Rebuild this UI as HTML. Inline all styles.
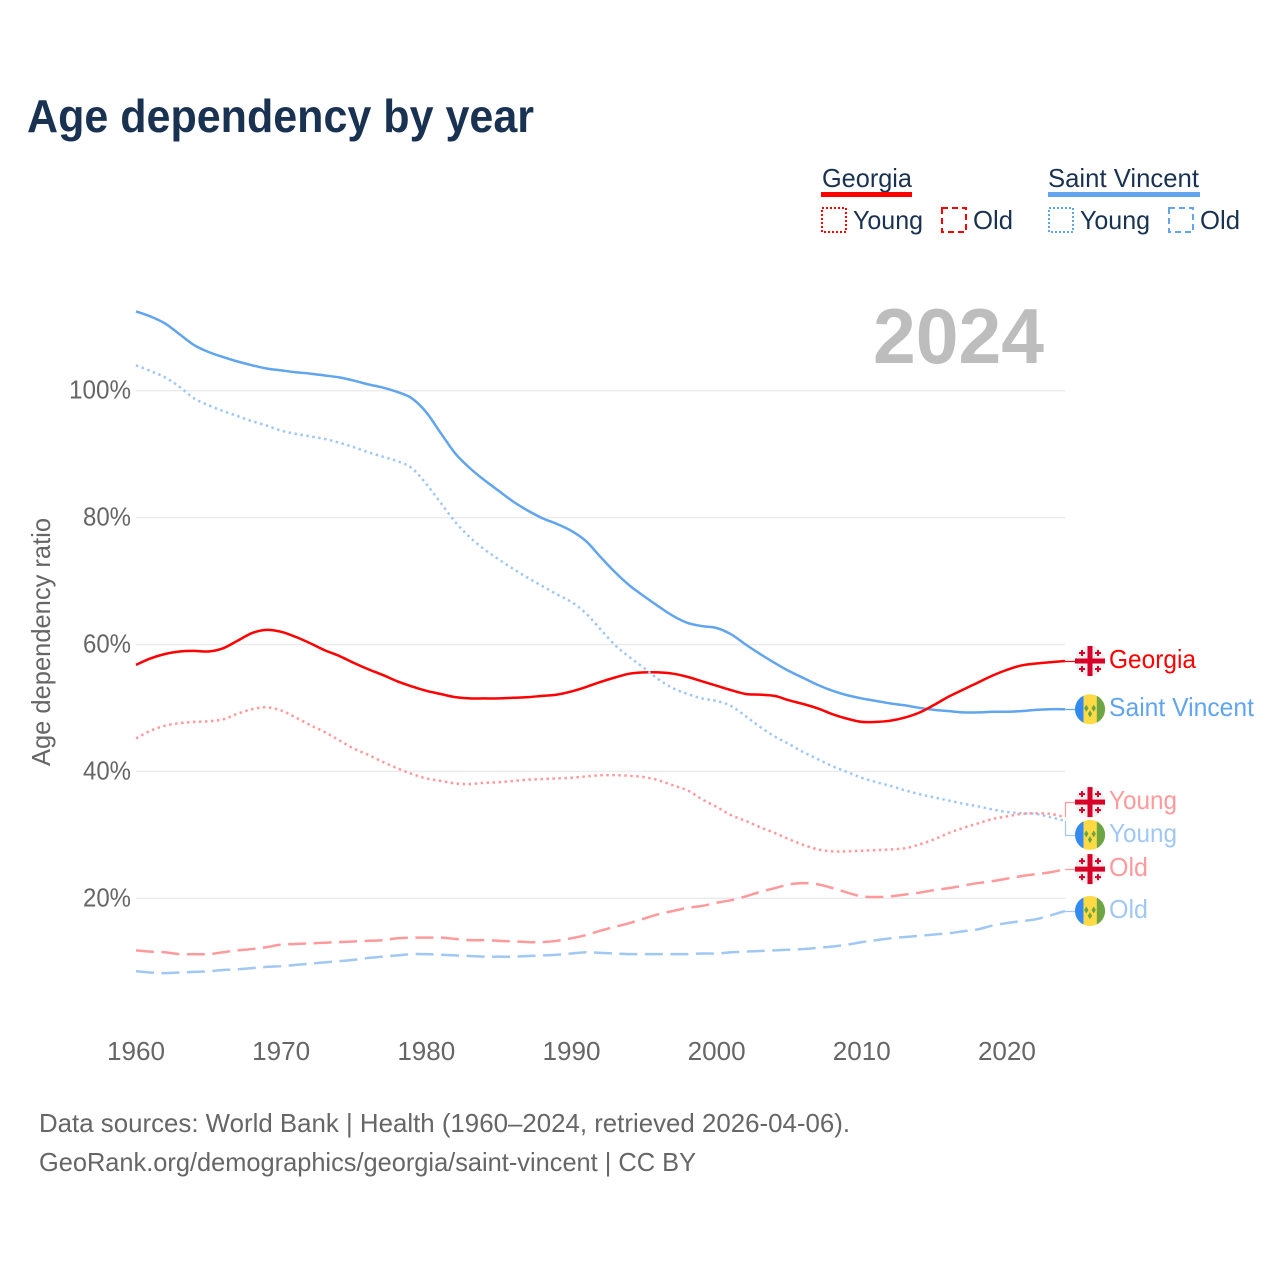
<!DOCTYPE html>
<html lang="en">
<head>
<meta charset="utf-8">
<title>Age dependency by year</title>
<style>
html,body{margin:0;padding:0;background:#fff}
svg{display:block}
text{font-family:"Liberation Sans",sans-serif}
</style>
</head>
<body>
<svg id="chart" xmlns="http://www.w3.org/2000/svg" width="1280" height="1280" viewBox="0 0 1280 1280">
  <rect width="1280" height="1280" fill="#fff"/>
  <text x="27" y="132" font-size="46" font-weight="700" fill="#1a3251" textLength="507" lengthAdjust="spacingAndGlyphs">Age dependency by year</text>

  <g font-size="26" fill="#1a3251">
    <text x="822" y="187" textLength="90" lengthAdjust="spacingAndGlyphs">Georgia</text>
    <rect x="821" y="192" width="91" height="5" fill="#ff0000"/>
    <rect x="822" y="208" width="24" height="24" fill="none" stroke="#ff0000" stroke-width="2" stroke-dasharray="2 2"/>
    <text x="853" y="229" textLength="70" lengthAdjust="spacingAndGlyphs">Young</text>
    <rect x="942" y="208" width="24" height="24" fill="none" stroke="#ff0000" stroke-width="2" stroke-dasharray="6 4"/>
    <text x="973" y="229" textLength="40" lengthAdjust="spacingAndGlyphs">Old</text>
    <text x="1048" y="187" textLength="151" lengthAdjust="spacingAndGlyphs">Saint Vincent</text>
    <rect x="1048" y="192" width="152" height="5" fill="#60a5ee"/>
    <rect x="1049" y="208" width="24" height="24" fill="none" stroke="#60a5ee" stroke-width="2" stroke-dasharray="2 2"/>
    <text x="1080" y="229" textLength="70" lengthAdjust="spacingAndGlyphs">Young</text>
    <rect x="1169" y="208" width="24" height="24" fill="none" stroke="#60a5ee" stroke-width="2" stroke-dasharray="6 4"/>
    <text x="1200" y="229" textLength="40" lengthAdjust="spacingAndGlyphs">Old</text>
  </g>

  <text x="873" y="363" font-size="78" font-weight="700" fill="#bdbdbd" textLength="171" lengthAdjust="spacingAndGlyphs">2024</text>

  <g id="grid"></g>
  <g id="yticks" font-size="26" fill="#666"></g>
  <g id="xticks" font-size="26" fill="#666"></g>
  <text transform="translate(50 766) rotate(-90)" font-size="26" fill="#666" textLength="248" lengthAdjust="spacingAndGlyphs">Age dependency ratio</text>
  <g id="lines"></g>
  <g id="endlabels" font-size="26"></g>

  <g font-size="26" fill="#666">
    <text x="39" y="1132" textLength="811" lengthAdjust="spacingAndGlyphs">Data sources: World Bank | Health (1960–2024, retrieved 2026-04-06).</text>
    <text x="39" y="1171" textLength="657" lengthAdjust="spacingAndGlyphs">GeoRank.org/demographics/georgia/saint-vincent | CC BY</text>
  </g>
</svg>
<script>
const years = [1960,1961,1962,1963,1964,1965,1966,1967,1968,1969,1970,1971,1972,1973,1974,1975,1976,1977,1978,1979,1980,1981,1982,1983,1984,1985,1986,1987,1988,1989,1990,1991,1992,1993,1994,1995,1996,1997,1998,1999,2000,2001,2002,2003,2004,2005,2006,2007,2008,2009,2010,2011,2012,2013,2014,2015,2016,2017,2018,2019,2020,2021,2022,2023,2024];
const xTickLabels = [1960,1970,1980,1990,2000,2010,2020];
const yTickLabels = [20,40,60,80,100];

const georgiaTotal = [56.8,57.8,58.5,58.9,59.0,58.9,59.4,60.6,61.8,62.3,
  62.0,61.2,60.2,59.1,58.2,57.1,56.1,55.2,54.2,53.4,
  52.7,52.2,51.7,51.5,51.5,51.5,51.6,51.7,51.9,52.1,
  52.6,53.3,54.1,54.8,55.4,55.6,55.6,55.4,54.9,54.2,
  53.5,52.8,52.2,52.1,51.9,51.2,50.6,49.9,49.0,48.3,
  47.8,47.8,48.0,48.5,49.3,50.5,51.8,52.9,54.0,55.1,
  56.0,56.7,57.0,57.2,57.4];
const georgiaYoung = [45.2,46.4,47.2,47.6,47.8,47.9,48.2,49.1,49.8,50.1,
  49.6,48.5,47.3,46.2,44.9,43.6,42.6,41.5,40.5,39.6,
  38.9,38.5,38.1,38.0,38.2,38.3,38.5,38.7,38.8,38.9,
  39.0,39.2,39.4,39.4,39.3,39.1,38.6,37.8,37.0,35.6,
  34.4,33.1,32.2,31.2,30.3,29.3,28.4,27.7,27.4,27.4,
  27.5,27.6,27.7,27.9,28.5,29.3,30.3,31.1,31.8,32.5,
  32.9,33.3,33.4,33.3,32.8];
const georgiaOld = [11.8,11.6,11.5,11.2,11.2,11.2,11.5,11.8,12.0,12.3,
  12.7,12.8,12.9,13.0,13.1,13.2,13.3,13.4,13.7,13.8,
  13.8,13.8,13.6,13.4,13.4,13.3,13.2,13.1,13.1,13.3,
  13.7,14.2,14.9,15.5,16.1,16.8,17.5,18.0,18.5,18.8,
  19.3,19.7,20.3,21.0,21.6,22.2,22.4,22.2,21.6,20.9,
  20.3,20.2,20.3,20.6,20.9,21.3,21.6,22.0,22.4,22.7,
  23.1,23.5,23.8,24.1,24.6];
const vincentTotal = [112.5,111.7,110.6,108.9,107.2,106.1,105.3,104.6,104.0,103.5,
  103.2,102.9,102.7,102.4,102.1,101.6,101.0,100.5,99.8,98.8,
  96.6,93.3,90.1,87.8,85.9,84.2,82.5,81.1,79.9,79.0,
  77.9,76.3,73.8,71.4,69.3,67.6,66.0,64.5,63.4,62.9,
  62.6,61.6,60.0,58.5,57.1,55.8,54.7,53.6,52.7,52.0,
  51.5,51.1,50.7,50.4,50.0,49.7,49.5,49.3,49.3,49.4,
  49.4,49.5,49.7,49.8,49.8];
const vincentYoung = [104.0,103.1,102.1,100.6,98.8,97.7,96.8,96.0,95.2,94.5,
  93.7,93.2,92.8,92.4,91.8,91.1,90.3,89.6,88.9,87.8,
  85.3,82.3,79.3,76.9,75.0,73.4,71.9,70.5,69.2,67.9,
  66.7,64.9,62.4,59.9,58.0,56.3,54.5,53.1,52.2,51.5,
  51.1,50.3,48.7,47.0,45.5,44.3,43.0,41.9,40.8,39.9,
  39.0,38.3,37.7,37.0,36.4,35.9,35.4,34.9,34.5,34.0,
  33.6,33.4,33.3,32.8,32.2];
const vincentOld = [8.5,8.3,8.2,8.3,8.4,8.5,8.7,8.8,9.0,9.2,
  9.3,9.5,9.7,9.9,10.1,10.3,10.6,10.8,11.0,11.2,
  11.2,11.1,11.0,10.9,10.8,10.8,10.8,10.9,11.0,11.1,
  11.3,11.5,11.4,11.3,11.2,11.2,11.2,11.2,11.2,11.3,
  11.3,11.5,11.6,11.7,11.8,11.9,12.0,12.2,12.4,12.7,
  13.1,13.4,13.7,13.9,14.1,14.3,14.5,14.8,15.1,15.7,
  16.1,16.4,16.7,17.3,18.0];

const SVGNS = 'http://www.w3.org/2000/svg';
function xScale(year){ return 136 + (year - 1960) * (1065 - 136) / 64; }
function yScale(v){ return 1025.2 - v * 6.345; }
function make(tag, attrs, parent){
  const el = document.createElementNS(SVGNS, tag);
  for (const k in attrs) el.setAttribute(k, attrs[k]);
  parent.appendChild(el);
  return el;
}
function smoothPath(values){
  const p = values.map((v, i) => [xScale(years[i]), yScale(v)]);
  let d = 'M' + p[0][0].toFixed(2) + ' ' + p[0][1].toFixed(2);
  for (let i = 0; i < p.length - 1; i++){
    const a = p[Math.max(i - 1, 0)], b = p[i], c = p[i + 1], e = p[Math.min(i + 2, p.length - 1)];
    const c1x = b[0] + (c[0] - a[0]) / 6, c1y = b[1] + (c[1] - a[1]) / 6;
    const c2x = c[0] - (e[0] - b[0]) / 6, c2y = c[1] - (e[1] - b[1]) / 6;
    d += 'C' + c1x.toFixed(2) + ' ' + c1y.toFixed(2) + ' ' + c2x.toFixed(2) + ' ' + c2y.toFixed(2) + ' ' + c[0].toFixed(2) + ' ' + c[1].toFixed(2);
  }
  return d;
}

const gridG = document.getElementById('grid');
const yG = document.getElementById('yticks');
yTickLabels.forEach(function(t){
  const line = make('line', {x1:136, x2:1065, y1:yScale(t), y2:yScale(t), stroke:'#ececec', 'stroke-width':1.5}, gridG);
  
  
  const label = make('text', {x:131, y:yScale(t) + 8, 'text-anchor':'end'}, yG);
  
  
  label.setAttribute('textLength', t === 100 ? 62 : 48);
  label.setAttribute('lengthAdjust', 'spacingAndGlyphs');
  label.textContent = t + '%';
});
const xG = document.getElementById('xticks');
xTickLabels.forEach(function(t){
  const label = make('text', {x:xScale(t), y:1060, 'text-anchor':'middle'}, xG);
  
  
  label.setAttribute('textLength', 58);
  label.setAttribute('lengthAdjust', 'spacingAndGlyphs');
  label.textContent = t;
});

const RED = '#ff0000', BLUE = '#60a5ee', LRED = '#ff9a9c', LBLUE = '#a0c8f3';
const DOT = '2.5 3.5', DASH = '18 7.5';
const seriesList = [
  {key:'saint-vincent-total', values:vincentTotal, color:BLUE, dash:null, flag:'vc', text:'Saint Vincent', shift:0, w:145},
  {key:'georgia-total', values:georgiaTotal, color:RED, dash:null, flag:'ge', text:'Georgia', shift:0, w:87},
  {key:'saint-vincent-young', values:vincentYoung, color:LBLUE, dash:DOT, flag:'vc', text:'Young', shift:14, w:68},
  {key:'georgia-young', values:georgiaYoung, color:LRED, dash:DOT, flag:'ge', text:'Young', shift:-15, w:68},
  {key:'saint-vincent-old', values:vincentOld, color:LBLUE, dash:DASH, flag:'vc', text:'Old', shift:0, w:39},
  {key:'georgia-old', values:georgiaOld, color:LRED, dash:DASH, flag:'ge', text:'Old', shift:0, w:39}
];

function drawGeorgiaFlag(g){
  make('circle', {cx:0, cy:0, r:15, fill:'#f0f0f0'}, g);
  make('rect', {x:-2.5, y:-15, width:5, height:30, fill:'#d80027'}, g);
  make('rect', {x:-15, y:-2.5, width:30, height:5, fill:'#d80027'}, g);
  [[-8,-8],[8,-8],[-8,8],[8,8]].forEach(function(o){
    make('rect', {x:o[0] - 1, y:o[1] - 3, width:2, height:6, fill:'#d80027'}, g);
    make('rect', {x:o[0] - 3, y:o[1] - 1, width:6, height:2, fill:'#d80027'}, g);
  });
}
function drawVincentFlag(g){
  make('circle', {cx:0, cy:0, r:15, fill:'#ffda44'}, g);
  make('path', {d:'M-6.5 -13.5A15 15 0 0 0 -6.5 13.5Z', fill:'#338af3'}, g);
  make('path', {d:'M6.8 -13.4A15 15 0 0 1 6.8 13.4Z', fill:'#6da544'}, g);
  [[-3.7,-1],[3.7,-1],[0,4.7]].forEach(function(o){
    make('path', {d:'M' + o[0] + ' ' + (o[1] - 3.5) + 'l2.2 3.5l-2.2 3.5l-2.2 -3.5Z', fill:'#6da544'}, g);
  });
}

const linesG = document.getElementById('lines');
const labelsG = document.getElementById('endlabels');
seriesList.forEach(function(s){
  const path = make('path', {d:smoothPath(s.values), fill:'none', stroke:s.color, 'stroke-width':2.5, 'stroke-linejoin':'round'}, linesG);
  
  
  if (s.dash) path.setAttribute('stroke-dasharray', s.dash);

  const endY = yScale(s.values[s.values.length - 1]);
  const flagY = endY + s.shift;
  const connector = make('path', {d:'M1065.5 ' + endY + 'V' + (Math.round(flagY) + 0.5) + 'H1076', fill:'none', stroke:s.color, 'stroke-width':1.2}, labelsG);
  
  

  const flag = make('g', {transform:'translate(1090 ' + flagY + ')'}, labelsG);
  
  
  if (s.flag === 'ge') drawGeorgiaFlag(flag); else drawVincentFlag(flag);

  const label = make('text', {x:1109, y:flagY + 7, fill:s.color}, labelsG);
  
  
  label.setAttribute('textLength', s.w);
  label.setAttribute('lengthAdjust', 'spacingAndGlyphs');
  label.textContent = s.text;
});
</script>
</body>
</html>
